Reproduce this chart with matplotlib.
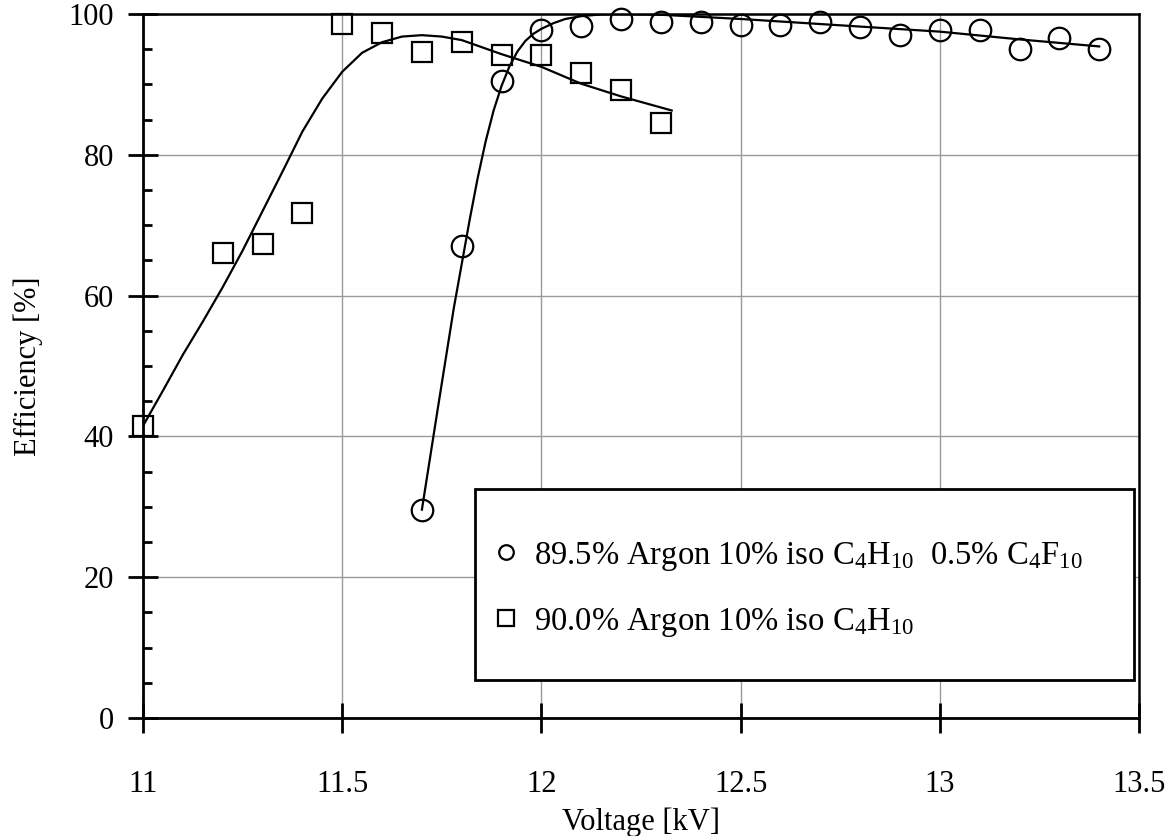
import matplotlib
matplotlib.use("Agg")
import matplotlib.pyplot as plt
from matplotlib.lines import Line2D
from matplotlib.patches import Rectangle
from matplotlib.ticker import MultipleLocator, FuncFormatter

plt.rcParams['font.family'] = ['Liberation Serif', 'DejaVu Serif']
plt.rcParams['mathtext.fontset'] = 'custom'
plt.rcParams['mathtext.rm'] = 'Liberation Serif'
plt.rcParams['mathtext.it'] = 'Liberation Serif:italic'
plt.rcParams['mathtext.bf'] = 'Liberation Serif:bold'

# ---- data: 89.5% Ar / 10% iso-C4H10 / 0.5% C4F10 (circles)
volt_c4f10 = [11.7, 11.8, 11.9, 12.0, 12.1, 12.2, 12.3, 12.4, 12.5, 12.6,
              12.7, 12.8, 12.9, 13.0, 13.1, 13.2, 13.3, 13.4]
eff_c4f10 = [29.6, 67.0, 90.5, 97.8, 98.3, 99.3, 98.9, 98.9, 98.5, 98.5,
             98.9, 98.1, 97.0, 97.7, 97.7, 95.1, 96.6, 95.1]

# ---- data: 90% Ar / 10% iso-C4H10 (squares)
volt_iso = [11.0, 11.2, 11.3, 11.4, 11.5, 11.6, 11.7, 11.8, 11.9, 12.0,
            12.1, 12.2, 12.3]
eff_iso = [41.5, 66.1, 67.3, 71.8, 98.6, 97.3, 94.6, 96.1, 94.2, 94.2,
           91.6, 89.2, 84.5]

# ---- fitted curves
fit_c4f10_x = [11.70, 11.72, 11.74, 11.76, 11.78, 11.80, 11.82, 11.84, 11.86,
               11.88, 11.90, 11.92, 11.94, 11.96, 11.98, 12.00, 12.03, 12.06,
               12.10, 12.15, 12.20, 12.30, 12.50, 12.75, 13.00, 13.20, 13.40]
fit_c4f10_y = [29.6, 36.8, 44.0, 51.1, 58.2, 64.5, 70.8, 76.7, 81.9,
               86.3, 89.8, 92.6, 94.7, 96.2, 97.2, 97.9, 98.7, 99.3,
               99.7, 99.95, 100.0, 99.9, 99.3, 98.4, 97.5, 96.4, 95.4]

fit_iso_x = [11.00, 11.05, 11.10, 11.15, 11.20, 11.25, 11.30, 11.35, 11.40,
             11.45, 11.50, 11.55, 11.60, 11.65, 11.70, 11.75, 11.80, 11.85,
             11.90, 11.95, 12.00, 12.05, 12.10, 12.20, 12.327]
fit_iso_y = [41.5, 46.5, 51.6, 56.3, 61.2, 66.4, 72.0, 77.6, 83.3,
             88.0, 91.8, 94.5, 96.0, 96.8, 97.0, 96.8, 96.3, 95.3,
             94.3, 93.4, 92.5, 91.3, 90.1, 88.3, 86.3]

x_ticks = [11, 11.5, 12, 12.5, 13, 13.5]
y_ticks = [0, 20, 40, 60, 80, 100]

label_c4f10 = "89.5% Argon 10% iso C$_4$H$_{10}$  0.5% C$_4$F$_{10}$"
label_iso = "90.0% Argon 10% iso C$_4$H$_{10}$"

fig = plt.figure(figsize=(11.75, 8.36), dpi=100)
ax = fig.add_axes([0.1217, 0.1411, 0.8477, 0.8421])

ax.plot(fit_iso_x, fit_iso_y, color='black', lw=1.6, zorder=3)
ax.plot(fit_c4f10_x, fit_c4f10_y, color='black', lw=1.6, zorder=3)
ax.plot(volt_iso, eff_iso, linestyle='none', marker='s', ms=15,
        mfc='none', mec='black', mew=1.6, clip_on=False, zorder=4)
ax.plot(volt_c4f10, eff_c4f10, linestyle='none', marker='o', ms=15.5,
        mfc='none', mec='black', mew=1.6, clip_on=False, zorder=4)

ax.set_xlim(11, 13.5)
ax.set_ylim(0, 100)
ax.set_xticks(x_ticks)
ax.set_yticks(y_ticks)
ax.yaxis.set_minor_locator(MultipleLocator(5))
fmt = FuncFormatter(lambda v, p: f"{v:g}")
ax.xaxis.set_major_formatter(fmt)
ax.yaxis.set_major_formatter(fmt)

ax.tick_params(which='major', direction='inout', length=21, width=2,
               labelsize=22, top=False, right=False)
ax.tick_params(axis='y', which='major', pad=10.5)
ax.tick_params(axis='x', which='major', pad=27)
ax.tick_params(axis='y', which='minor', direction='in', length=6.5, width=2)
ax.tick_params(axis='x', which='minor', bottom=False)

ax.grid(True, which='major', color='#9a9a9a', lw=1.0)
ax.set_axisbelow(True)

for side in ['left', 'bottom']:
    ax.spines[side].set_linewidth(2.0)
for side in ['top', 'right']:
    ax.spines[side].set_linewidth(1.8)

ax.set_xlabel("Voltage [kV]", fontsize=22, labelpad=6)
ax.set_ylabel("Efficiency [%]", fontsize=22, labelpad=18)

# legend box
box = Rectangle((0.3333, 0.054), 0.6617, 0.271, transform=ax.transAxes,
                facecolor='white', edgecolor='black', lw=2.0, zorder=5)
ax.add_patch(box)

handles = [
    Line2D([], [], linestyle='none', marker='o', ms=10.5, mfc='none',
           mec='black', mew=1.6),
    Line2D([], [], linestyle='none', marker='s', ms=11.5, mfc='none',
           mec='black', mew=1.6),
]
leg = ax.legend(handles, [label_c4f10, label_iso], loc='center left',
                bbox_to_anchor=(0.352, 0.183), frameon=False, fontsize=23.5,
                borderpad=0, borderaxespad=0, handlelength=0.75,
                handletextpad=0.5, labelspacing=1.0)
leg.set_zorder(6)

fig.savefig("out.png", dpi=100)
